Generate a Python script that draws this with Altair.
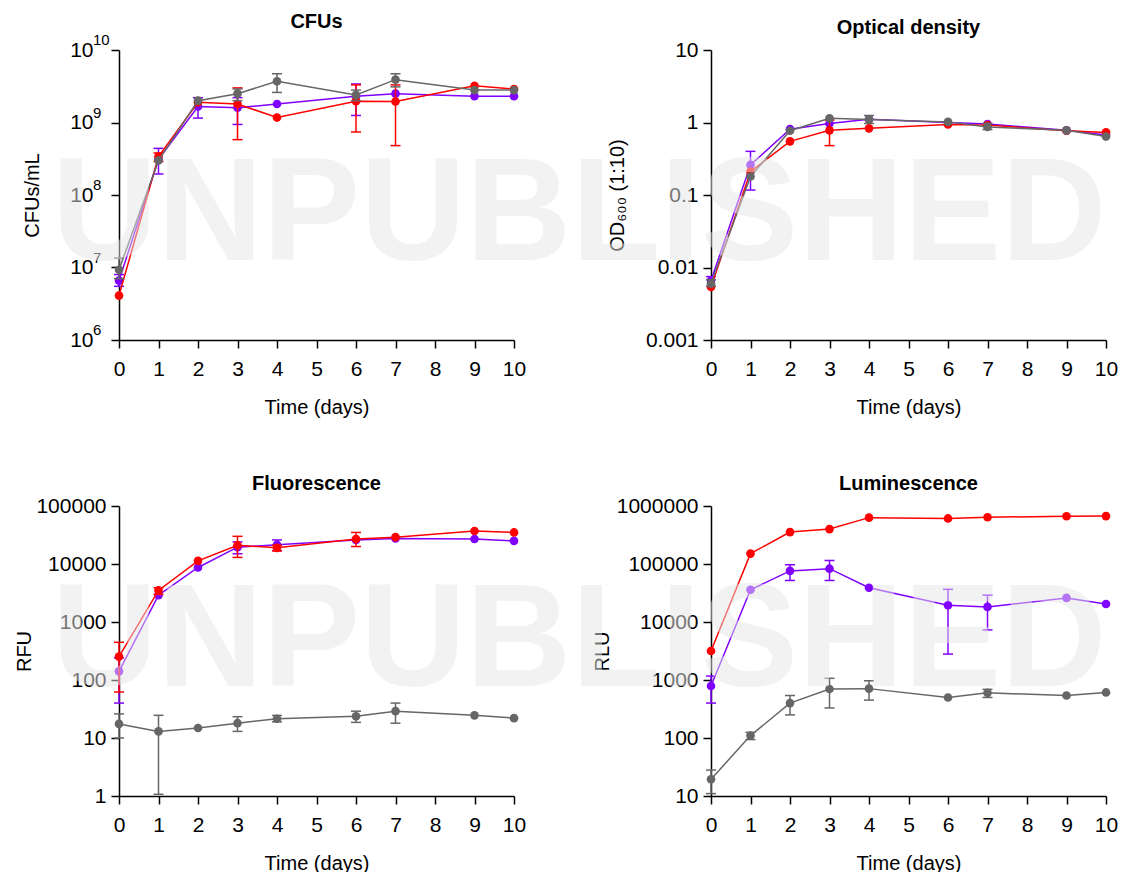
import math
import altair as alt
import pandas as pd

FONT = "Liberation Sans"
WM_FONT = "Liberation Sans"
WATERMARK = "UNPUBLISHED"

DAYS = [0, 1, 2, 3, 4, 6, 7, 9, 10]
ORDER = ["Purple", "Red", "Gray"]
COLORS = {"Red": "#ff0000", "Purple": "#8000ff", "Gray": "#666666"}
N = None

# ---------------- CFUs ----------------
CFU = {
    "Red": [4.1e6, 3.4e8, 1.9e9, 1.8e9, 1.17e9, 1.97e9, 1.95e9, 3.2e9, 2.9e9],
    "Purple": [6.6e6, 3.1e8, 1.66e9, 1.6e9, 1.8e9, 2.3e9, 2.5e9, 2.3e9, 2.3e9],
    "Gray": [9.3e6, 3.0e8, 2.0e9, 2.5e9, 3.7e9, 2.4e9, 3.9e9, 2.8e9, 2.8e9],
}
CFU_LO = {
    "Red": [N, 2.9e8, N, 5.8e8, N, 7.4e8, 4.8e8, N, N],
    "Purple": [5.5e6, 1.95e8, 1.15e9, 9.4e8, N, 1.25e9, N, N, N],
    "Gray": [7.0e6, N, N, 2.0e9, 2.6e9, 2.0e9, 3.1e9, N, N],
}
CFU_HI = {
    "Red": [N, 3.8e8, N, 3.0e9, N, 3.3e9, 3.3e9, N, N],
    "Purple": [8.0e6, 4.4e8, 2.2e9, 2.2e9, N, 3.4e9, N, N, N],
    "Gray": [1.35e7, N, N, 2.9e9, 4.7e9, 2.8e9, 4.7e9, N, N],
}
CFU_TICKS = [1e6, 1e7, 1e8, 1e9, 1e10]
CFU_TICK_BASE = "10"
CFU_TICK_EXPONENTS = ["6", "7", "8", "9", "10"]

# ---------------- Optical density ----------------
OD = {
    "Red": [0.0054, 0.21, 0.55, 0.78, 0.83, 0.94, 0.92, 0.77, 0.73],
    "Purple": [0.0066, 0.26, 0.81, 0.97, 1.11, 1.0, 0.95, 0.78, 0.67],
    "Gray": [0.0060, 0.18, 0.77, 1.14, 1.10, 1.02, 0.87, 0.78, 0.64],
}
OD_LO = {
    "Red": [N, N, N, 0.48, N, N, N, N, N],
    "Purple": [0.0055, 0.117, N, N, N, N, N, N, N],
    "Gray": [0.0055, N, N, N, 0.97, N, 0.80, N, N],
}
OD_HI = {
    "Red": [N, N, N, 1.08, N, N, N, N, N],
    "Purple": [0.0075, 0.40, N, N, N, N, N, N, N],
    "Gray": [0.0068, N, N, N, 1.25, N, 0.97, N, N],
}
OD_TICKS = [0.001, 0.01, 0.1, 1, 10]
OD_TICK_LABELS = ["0.001", "0.01", "0.1", "1", "10"]

# ---------------- Fluorescence ----------------
RFU = {
    "Red": [253, 3500, 11300, 21000, 19000, 27000, 29000, 37000, 35000],
    "Purple": [141, 2900, 8700, 19500, 21500, 26000, 27500, 27000, 25000],
    "Gray": [17.5, 13, 14.9, 18, 21.5, 23.7, 29, 24.6, 22],
}
RFU_LO = {
    "Red": [62, 3000, N, 13000, 16800, 20000, N, N, N],
    "Purple": [40, N, N, 15000, 17000, N, N, N, N],
    "Gray": [10, 1.07, N, 13, 19, 18.6, 18, N, N],
}
RFU_HI = {
    "Red": [447, 3900, N, 30000, 21000, 35000, N, N, N],
    "Purple": [240, N, N, 24000, 26000, N, N, N, N],
    "Gray": [26, 24.6, N, 23.3, 24.5, 29, 40, N, N],
}
RFU_TICKS = [1, 10, 100, 1000, 10000, 100000]
RFU_TICK_LABELS = ["1", "10", "100", "1000", "10000", "100000"]

# ---------------- Luminescence ----------------
RLU = {
    "Red": [3160, 151000, 355000, 400000, 630000, 610000, 640000, 665000, 670000],
    "Purple": [790, 36000, 76000, 83000, 39000, 19400, 18200, 26000, 20400],
    "Gray": [19.4, 110, 400, 700, 710, 500, 600, 540, 610],
}
RLU_LO = {
    "Red": [N, N, N, N, N, N, N, N, N],
    "Purple": [400, N, 52000, 52000, N, 2800, 7300, N, N],
    "Gray": [11, 94, 250, 330, 450, N, 500, N, N],
}
RLU_HI = {
    "Red": [N, N, N, N, N, N, N, N, N],
    "Purple": [1170, N, 97000, 115000, N, 36600, 29000, N, N],
    "Gray": [28, 125, 540, 1070, 970, N, 690, N, N],
}
RLU_TICKS = [10, 100, 1000, 10000, 100000, 1000000]
RLU_TICK_LABELS = ["10", "100", "1000", "10000", "100000", "1000000"]

X_TICKS = list(range(11))
W, H = 395, 290
COL2_X = 711  # left edge of the right column's plot area (for the watermark offset)
EXP_X = -26   # where the "10" base label ends and the exponent starts


def label_expr(ticks, labels):
    expr = "''"
    for t, lab in zip(ticks, labels):
        expr = f"(abs(log(datum.value)/LN10 - ({math.log10(t)})) < 0.01 ? '{lab}' : {expr})"
    return expr


def panel(title, ytitle, vals, lows, highs, ticks, tick_labels, title_x,
          wm_y=None, exponents=None):
    xscale = alt.Scale(domain=[0, 10], nice=False)
    yscale = alt.Scale(type="log", domain=[ticks[0], ticks[-1]], nice=False)
    xaxis = alt.Axis(values=X_TICKS, tickSize=8, labelPadding=10, titlePadding=18,
                     labelFlush=False, labelOverlap=False, format="d")
    yaxis = alt.Axis(values=ticks, labelExpr=label_expr(ticks, tick_labels), tickSize=8,
                     labelPadding=(-EXP_X - 8) if exponents else 5, labelOverlap=False,
                     labelFlush=False, titleX=title_x, titleY=H / 2)

    def X():
        return alt.X("day:Q", scale=xscale, axis=xaxis, title="Time (days)")

    def Y(f):
        return alt.Y(f + ":Q", scale=yscale, axis=yaxis, title=ytitle)

    layers = []
    for s in ORDER:
        c = COLORS[s]
        df = pd.DataFrame({"day": DAYS, "v": vals[s], "lo": lows[s], "hi": highs[s]})
        base = alt.Chart(df)
        errbase = base.transform_filter("isValid(datum.lo) && isValid(datum.hi)")
        layers.append(base.mark_line(color=c, strokeWidth=1.5).encode(x=X(), y=Y("v")))
        layers.append(errbase.mark_rule(color=c, strokeWidth=1.5).encode(
            x=X(), y=Y("lo"), y2="hi:Q"))
        layers.append(errbase.mark_tick(color=c, orient="horizontal", size=10, thickness=1.5,
                                        opacity=1).encode(x=X(), y=Y("lo")))
        layers.append(errbase.mark_tick(color=c, orient="horizontal", size=10, thickness=1.5,
                                        opacity=1).encode(x=X(), y=Y("hi")))
        layers.append(base.mark_point(filled=True, size=75, color=c, opacity=1).encode(
            x=X(), y=Y("v")))
    if exponents:
        ex = alt.Chart(pd.DataFrame({"tick": ticks, "exp": exponents})).mark_text(
            align="left", baseline="middle", font=FONT, fontSize=15, color="black", dy=-10,
        ).encode(text="exp:N", x=alt.value(EXP_X), y=Y("tick"))
        layers.append(ex)
    if wm_y is not None:
        wm = alt.Chart(pd.DataFrame({"t": [WATERMARK]})).mark_text(
            align="left", baseline="alphabetic", font=WM_FONT, fontSize=146,
            fontWeight="bold", color="#e6e6e6", opacity=0.5,
        ).encode(text="t:N", x=alt.value(52 - COL2_X), y=alt.value(wm_y))
        layers.append(wm)
    return alt.layer(*layers).properties(
        width=W, height=H, title=alt.TitleParams(title)
    )


p1 = panel("CFUs", "CFUs/mL", CFU, CFU_LO, CFU_HI, CFU_TICKS,
           [CFU_TICK_BASE] * len(CFU_TICKS), -77, exponents=CFU_TICK_EXPONENTS)
p2 = panel("Optical density", "OD₆₀₀ (1:10)", OD, OD_LO, OD_HI, OD_TICKS, OD_TICK_LABELS,
           -84, wm_y=210)
p3 = panel("Fluorescence", "RFU", RFU, RFU_LO, RFU_HI, RFU_TICKS, RFU_TICK_LABELS, -85)
p4 = panel("Luminescence", "RLU", RLU, RLU_LO, RLU_HI, RLU_TICKS, RLU_TICK_LABELS, -99,
           wm_y=180)

chart = alt.concat(p1, p2, p3, p4, columns=2, spacing={"row": 166, "column": 197},
                   bounds="flush").properties(
    padding={"left": 14, "top": 12, "right": 0, "bottom": 0},
    background="white",
).configure_axis(
    domainColor="black", domainWidth=1.5, tickColor="black", tickWidth=1.5,
    labelColor="black", titleColor="black", labelFont=FONT, titleFont=FONT,
    labelFontSize=21, titleFontSize=20, titleFontWeight="normal", grid=False,
).configure_title(
    font=FONT, fontSize=20, fontWeight="bold", anchor="middle", offset=1, color="black",
).configure_view(strokeWidth=0)

chart.save("out.html", embed_options={"renderer": "svg", "actions": False})
